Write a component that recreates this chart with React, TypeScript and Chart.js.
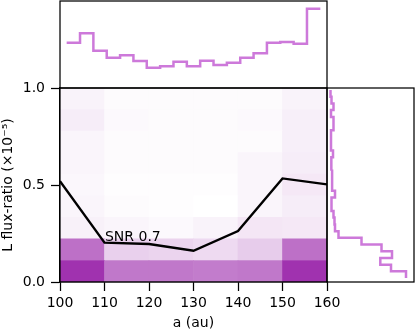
import React, { useEffect, useRef } from 'react';
import { Chart, registerables } from 'chart.js';

Chart.register(...registerables);

const W = 415;
const H = 332;

// Main panel: 2D density cells (rows bottom -> top, columns 100-110 ... 150-160)
const A_EDGES = [100, 110, 120, 130, 140, 150, 160];
const FLUX_EDGES = [0, 0.111, 0.222, 0.333, 0.444, 0.556, 0.667, 0.778, 0.889, 1.0];
const DENSITY = [
  [1.0, 0.66, 0.66, 0.64, 0.66, 1.0],
  [0.7, 0.23, 0.21, 0.18, 0.25, 0.7],
  [0.07, 0.05, 0.03, 0.06, 0.12, 0.11],
  [0.05, 0.02, 0.01, 0.0, 0.05, 0.09],
  [0.04, 0.01, 0.01, 0.01, 0.05, 0.11],
  [0.05, 0.02, 0.02, 0.02, 0.05, 0.09],
  [0.05, 0.02, 0.02, 0.02, 0.02, 0.08],
  [0.09, 0.03, 0.02, 0.02, 0.03, 0.08],
  [0.06, 0.02, 0.02, 0.02, 0.02, 0.06],
];

// SNR contour line
const SNR_A = [100, 110, 120, 130, 140, 150, 160];
const SNR_FLUX = [0.52, 0.203, 0.196, 0.161, 0.263, 0.534, 0.503];
const SNR_LABEL = 'SNR 0.7';
const SNR_LABEL_A = 110.1;
const SNR_LABEL_FLUX = 0.213;

// Top marginal histogram (a)
const A_HIST_EDGES = [101.5, 104.5, 107.5, 110.5, 113.5, 116.5, 119.5, 122.5, 125.5, 128.5, 131.5, 134.5, 137.5, 140.5, 143.5, 146.5, 149.5, 152.5, 155.5, 158.5];
const A_HIST_COUNTS = [45.3, 54.7, 37.3, 30.3, 32.7, 27, 20.3, 21.7, 26.3, 21.7, 27.3, 23, 25.3, 30.3, 34.7, 45.3, 46, 44.3, 79.3];
const A_HIST_MAX = 87;

// Right marginal histogram (flux ratio)
const FLUX_HIST_EDGES = [0.02, 0.055, 0.089, 0.124, 0.159, 0.193, 0.228, 0.262, 0.297, 0.332, 0.366, 0.401, 0.436, 0.47, 0.505, 0.54, 0.574, 0.609, 0.643, 0.678, 0.713, 0.747, 0.782, 0.817, 0.851, 0.886, 0.92, 0.955, 0.99];
const FLUX_HIST_COUNTS = [79, 64, 53.3, 65, 54.5, 34.5, 11.5, 8, 7.5, 6.5, 4.5, 4.5, 8, 5.5, 5, 5, 4, 4.5, 6, 4, 4, 4, 6.5, 6.5, 4, 6.5, 4.5, 3.5];
const FLUX_HIST_MAX = 87;

const X_LABEL = 'a (au)';
const Y_LABEL = 'L flux-ratio (×10⁻⁵)';

const HIST_COLOR = 'rgba(196,98,212,0.85)';
const FONT = '"DejaVu Sans", sans-serif';

function cmap(t: number): string {
  const r = Math.round(255 - 95 * t);
  const g = Math.round(255 - 205 * t);
  const b = Math.round(255 - 80 * t);
  return `rgb(${r},${g},${b})`;
}

const boxPlugin = {
  id: 'boxPlugin',
  afterDraw(chart: any) {
    const { ctx, chartArea } = chart;
    ctx.save();
    ctx.strokeStyle = '#000';
    ctx.lineWidth = 1.25;
    ctx.strokeRect(chartArea.left, chartArea.top, chartArea.right - chartArea.left, chartArea.bottom - chartArea.top);
    ctx.restore();
  },
};

const labelPlugin = {
  id: 'labelPlugin',
  afterDatasetsDraw(chart: any) {
    const { ctx } = chart;
    const xs = chart.scales.x;
    const ys = chart.scales.y;
    ctx.save();
    ctx.font = `14px ${FONT}`;
    ctx.fillStyle = '#000';
    ctx.textAlign = 'left';
    ctx.textBaseline = 'alphabetic';
    ctx.fillText(SNR_LABEL, xs.getPixelForValue(SNR_LABEL_A), ys.getPixelForValue(SNR_LABEL_FLUX));
    ctx.restore();
  },
};

export default function App() {
  const mainRef = useRef<HTMLCanvasElement | null>(null);
  const topRef = useRef<HTMLCanvasElement | null>(null);
  const rightRef = useRef<HTMLCanvasElement | null>(null);

  useEffect(() => {
    Chart.defaults.font.family = FONT;
    Chart.defaults.font.size = 14;
    Chart.defaults.color = '#000';

    const cellDatasets = FLUX_EDGES.slice(0, -1).map((lo, r) => ({
      type: 'bar' as const,
      data: A_EDGES.slice(0, -1).map((a0, c) => ({ x: (a0 + A_EDGES[c + 1]) / 2, y: [lo, FLUX_EDGES[r + 1]] })),
      backgroundColor: DENSITY[r].map(cmap),
      borderWidth: 0,
      grouped: false,
      barPercentage: 1,
      categoryPercentage: 1,
      order: 2,
    }));

    const main = new Chart(mainRef.current!, {
      type: 'bar',
      data: {
        datasets: [
          ...cellDatasets,
          {
            type: 'line' as const,
            data: SNR_A.map((a, i) => ({ x: a, y: SNR_FLUX[i] })),
            borderColor: '#000',
            borderWidth: 2.4,
            pointRadius: 0,
            fill: false,
            tension: 0,
            order: 0,
          },
        ] as any,
      },
      options: {
        responsive: false,
        animation: false,
        layout: { padding: { left: 0, top: 88, right: 88, bottom: 0 } },
        plugins: { legend: { display: false }, tooltip: { enabled: false } },
        scales: {
          x: {
            type: 'linear',
            min: 100,
            max: 160,
            offset: false,
            ticks: { stepSize: 10, autoSkip: false, maxRotation: 0, color: '#000', font: { size: 14 }, padding: 4 },
            grid: { drawOnChartArea: false, drawTicks: true, tickLength: 9, tickWidth: 1.25, tickColor: '#000', offset: false },
            border: { display: true, color: '#000', width: 1.25 },
            title: { display: true, text: X_LABEL, color: '#000', font: { size: 14 }, padding: 0 },
            afterFit: (s: any) => { s.height = 50; },
          },
          y: {
            type: 'linear',
            min: 0,
            max: 1,
            ticks: { stepSize: 0.5, color: '#000', font: { size: 14 }, padding: 6, callback: (v: any) => Number(v).toFixed(1) },
            grid: { drawOnChartArea: false, drawTicks: true, tickLength: 9, tickWidth: 1.25, tickColor: '#000' },
            border: { display: true, color: '#000', width: 1.25 },
            title: { display: true, text: Y_LABEL, color: '#000', font: { size: 14 }, padding: 0 },
            afterFit: (s: any) => { s.width = 60; },
          },
        },
      } as any,
      plugins: [labelPlugin, boxPlugin],
    });

    const top = new Chart(topRef.current!, {
      type: 'line',
      data: {
        datasets: [
          {
            data: A_HIST_COUNTS.flatMap((c, i) => [
              { x: A_HIST_EDGES[i], y: c },
              { x: A_HIST_EDGES[i + 1], y: c },
            ]),
            borderColor: HIST_COLOR,
            borderWidth: 2.5,
            pointRadius: 0,
            fill: false,
            tension: 0,
          },
        ],
      },
      options: {
        responsive: false,
        animation: false,
        layout: { padding: { left: 60, top: 1, right: 88, bottom: 244 } },
        plugins: { legend: { display: false }, tooltip: { enabled: false } },
        scales: {
          x: { type: 'linear', min: 100, max: 160, display: false },
          y: { type: 'linear', min: 0, max: A_HIST_MAX, display: false },
        },
      } as any,
      plugins: [boxPlugin],
    });

    const right = new Chart(rightRef.current!, {
      type: 'line',
      data: {
        datasets: [
          {
            data: FLUX_HIST_COUNTS.flatMap((c, k) => [
              { x: c, y: FLUX_HIST_EDGES[k] },
              { x: c, y: FLUX_HIST_EDGES[k + 1] },
            ]),
            borderColor: HIST_COLOR,
            borderWidth: 2.5,
            pointRadius: 0,
            fill: false,
            tension: 0,
          },
        ],
      },
      options: {
        responsive: false,
        animation: false,
        layout: { padding: { left: 327, top: 88, right: 1, bottom: 50 } },
        plugins: { legend: { display: false }, tooltip: { enabled: false } },
        scales: {
          x: { type: 'linear', min: 0, max: FLUX_HIST_MAX, display: false },
          y: { type: 'linear', min: 0, max: 1, display: false },
        },
      } as any,
      plugins: [boxPlugin],
    });

    return () => {
      main.destroy();
      top.destroy();
      right.destroy();
    };
  }, []);

  const cs: React.CSSProperties = { position: 'absolute', left: 0, top: 0, width: W, height: H };
  return (
    <div style={{ position: 'fixed', left: 0, top: 0, width: W, height: H, background: '#fff' }}>
      <canvas ref={mainRef} width={W} height={H} style={cs} />
      <canvas ref={topRef} width={W} height={H} style={cs} />
      <canvas ref={rightRef} width={W} height={H} style={cs} />
    </div>
  );
}
